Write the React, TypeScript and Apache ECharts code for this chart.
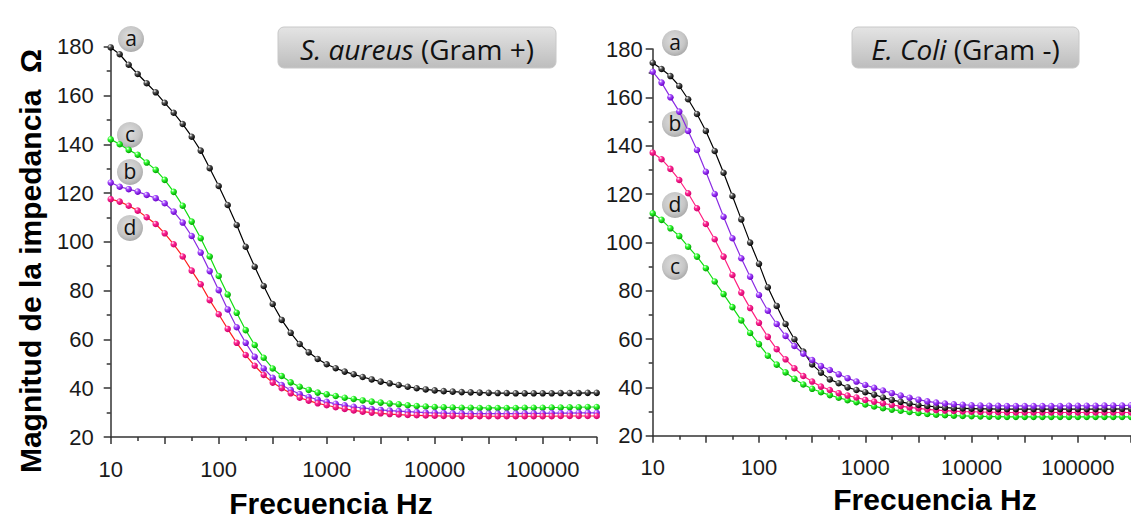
import React, { useEffect, useRef } from "react";
import * as echarts from "echarts";

// Frequencies (Hz), 12 points per decade from 10 Hz to ~316 kHz
const freq = [
  10, 12.115, 14.678, 17.783, 21.544, 26.102, 31.623, 38.312, 46.416, 56.234, 68.129, 82.54,
  100, 121.15, 146.78, 177.83, 215.44, 261.02, 316.23, 383.12, 464.16, 562.34, 681.29, 825.4,
  1000, 1211.5, 1467.8, 1778.3, 2154.4, 2610.2, 3162.3, 3831.2, 4641.6, 5623.4, 6812.9, 8254,
  10000, 12115, 14678, 17783, 21544, 26102, 31623, 38312, 46416, 56234, 68129, 82540,
  100000, 121153, 146780, 177828, 215443, 261016, 316228,
];

// S. aureus (Gram +)
const saA = [
  179.7, 176.9, 172.6, 168.8, 165.0, 161.3, 157.0, 152.9, 148.3, 143.1,
  137.4, 130.2, 122.9, 115.1, 106.9, 98.0, 89.8, 81.9, 74.5, 68.0,
  62.7, 58.1, 54.7, 52.0, 49.8, 48.2, 46.8, 45.7, 44.6, 43.6,
  42.7, 42.0, 41.3, 40.6, 40.0, 39.5, 39.1, 38.8, 38.6, 38.4,
  38.3, 38.2, 38.1, 38.0, 38.0, 37.9, 37.9, 37.9, 37.9, 37.9,
  38.0, 38.0, 38.0, 38.1, 38.1,
];
const saB = [
  124.3, 122.6, 121.6, 120.6, 119.2, 117.9, 115.8, 112.4, 107.9, 102.4,
  95.6, 88.0, 80.2, 72.3, 65.0, 58.6, 52.9, 48.1, 44.3, 41.3,
  39.3, 37.6, 36.4, 35.3, 34.4, 33.6, 33.0, 32.4, 31.9, 31.5,
  31.1, 30.8, 30.6, 30.4, 30.2, 30.0, 29.9, 29.8, 29.7, 29.7,
  29.6, 29.6, 29.6, 29.6, 29.6, 29.6, 29.7, 29.7, 29.7, 29.8,
  29.8, 29.8, 29.9, 29.9, 29.9,
];
const saC = [
  142.0, 140.0, 137.7, 135.7, 132.5, 129.5, 125.4, 120.5, 114.8, 108.3,
  101.5, 94.0, 86.0, 78.4, 70.9, 63.8, 57.7, 52.5, 48.1, 45.0,
  42.4, 40.6, 39.3, 38.2, 37.5, 36.8, 36.1, 35.6, 35.0, 34.5,
  34.1, 33.7, 33.4, 33.0, 32.7, 32.5, 32.3, 32.2, 32.1, 32.0,
  32.0, 31.9, 31.9, 31.9, 31.9, 31.9, 32.0, 32.0, 32.0, 32.1,
  32.1, 32.2, 32.2, 32.3, 32.3,
];
const saD = [
  117.5, 116.5, 114.8, 112.8, 110.1, 107.3, 103.5, 99.0, 94.0, 88.2,
  82.6, 76.1, 70.3, 64.3, 58.6, 53.6, 49.2, 45.4, 42.3, 40.0,
  37.9, 36.1, 34.9, 33.8, 33.0, 32.2, 31.5, 30.9, 30.4, 30.0,
  29.7, 29.4, 29.2, 29.0, 28.9, 28.8, 28.7, 28.6, 28.6, 28.5,
  28.5, 28.5, 28.5, 28.5, 28.5, 28.5, 28.5, 28.5, 28.5, 28.5,
  28.6, 28.6, 28.6, 28.6, 28.6,
];

// E. Coli (Gram -)
const ecA = [
  174.3, 171.7, 168.8, 164.7, 159.2, 153.1, 146.1, 137.8, 128.8, 119.2,
  109.5, 99.9, 91.1, 81.4, 73.7, 66.2, 59.9, 54.8, 49.5, 46.1,
  43.3, 41.7, 40.0, 38.9, 38.0, 37.0, 35.8, 34.8, 34.0, 33.3,
  32.7, 32.3, 31.9, 31.6, 31.4, 31.3, 31.2, 31.1, 31.1, 31.0,
  31.0, 31.0, 31.0, 31.0, 31.0, 31.0, 31.0, 31.0, 31.0, 31.0,
  31.0, 31.0, 31.0, 31.1, 31.1,
];
const ecB = [
  170.6, 166.1, 160.0, 154.1, 146.1, 138.2, 129.2, 120.0, 110.6, 101.7,
  93.4, 85.8, 78.2, 71.7, 66.2, 61.3, 57.1, 53.9, 51.3, 48.8,
  47.2, 45.4, 43.8, 42.4, 41.0, 39.8, 38.7, 37.6, 36.6, 35.7,
  34.9, 34.2, 33.7, 33.3, 33.0, 32.8, 32.6, 32.5, 32.4, 32.4,
  32.3, 32.3, 32.3, 32.3, 32.3, 32.3, 32.3, 32.4, 32.4, 32.4,
  32.4, 32.5, 32.5, 32.5, 32.6,
];
const ecC = [
  112.0, 109.3, 105.8, 102.6, 98.2, 94.1, 89.3, 83.8, 78.6, 73.2,
  67.7, 62.5, 57.9, 53.1, 49.4, 46.2, 43.5, 41.2, 39.4, 38.0,
  36.8, 35.7, 34.7, 33.9, 32.9, 32.1, 31.4, 30.8, 30.3, 29.8,
  29.4, 29.0, 28.7, 28.5, 28.3, 28.2, 28.1, 28.0, 27.9, 27.9,
  27.8, 27.8, 27.8, 27.8, 27.8, 27.8, 27.8, 27.8, 27.8, 27.8,
  27.8, 27.8, 27.8, 27.8, 27.8,
];
const ecD = [
  137.1, 134.4, 130.4, 125.8, 120.3, 114.1, 107.6, 101.3, 94.1, 86.5,
  79.2, 72.8, 66.7, 60.9, 55.8, 51.6, 47.9, 44.7, 42.4, 40.3,
  38.9, 37.6, 36.6, 35.8, 34.8, 34.1, 33.4, 32.7, 32.2, 31.7,
  31.3, 30.9, 30.6, 30.4, 30.2, 30.0, 29.9, 29.8, 29.7, 29.7,
  29.6, 29.6, 29.6, 29.6, 29.6, 29.6, 29.6, 29.6, 29.6, 29.6,
  29.6, 29.6, 29.6, 29.6, 29.6,
];

const xTickLabels = ["10", "100", "1000", "10000", "100000"];
const yTitle = "Magnitud de la impedancia  Ω";
const xTitle = "Frecuencia Hz";

const AXIS_COLOR = "#333";
const LABEL_FONT = "'Liberation Sans', Arial, sans-serif";
const CAL_FONT = "'Open Sans', 'Noto Sans', sans-serif";

function ball(c: string, dark: string) {
  return new echarts.graphic.RadialGradient(0.35, 0.3, 0.7, [
    { offset: 0, color: "#ffffff" },
    { offset: 0.35, color: c },
    { offset: 1, color: dark },
  ]);
}

function mkSeries(name: string, vals: number[], xi: number, yi: number, line: string, mk: string, dark: string) {
  return {
    name,
    type: "line",
    xAxisIndex: xi,
    yAxisIndex: yi,
    data: vals.map((v, i) => [freq[i], v]),
    symbol: "circle",
    symbolSize: 6.5,
    showSymbol: true,
    lineStyle: { color: line, width: 1.2 },
    itemStyle: { color: ball(mk, dark), borderWidth: 0 },
    emphasis: { disabled: true },
  };
}

function logAxis(grid: number) {
  return {
    type: "log",
    gridIndex: grid,
    logBase: 10,
    min: 10,
    max: 316228,
    position: "bottom",
    axisLine: { show: true, lineStyle: { color: AXIS_COLOR, width: 1.5 } },
    axisTick: { show: false },
    axisLabel: {
      fontSize: 22,
      color: "#1a1a1a",
      fontFamily: LABEL_FONT,
      margin: 21,
      showMaxLabel: false,
      formatter: (v: number) => {
        const s = String(Math.round(v));
        return xTickLabels.indexOf(s) >= 0 ? s : "";
      },
    },
    splitLine: { show: false },
  };
}

function tickAxis(grid: number) {
  return {
    type: "value",
    gridIndex: grid,
    min: 1,
    max: 5.5,
    interval: 0.5,
    position: "bottom",
    axisLine: { show: false },
    axisLabel: { show: false },
    splitLine: { show: false },
    axisTick: { show: true, length: 7, lineStyle: { color: AXIS_COLOR, width: 1.5 } },
    minorTick: { show: true, splitNumber: 2, length: 4, lineStyle: { color: AXIS_COLOR, width: 1.5 } },
  };
}

function yAxis(grid: number, margin: number) {
  return {
    type: "value",
    gridIndex: grid,
    min: 20,
    max: 180,
    interval: 20,
    axisLine: { show: true, lineStyle: { color: AXIS_COLOR, width: 1.5 } },
    axisTick: { show: true, length: 7, lineStyle: { color: AXIS_COLOR, width: 1.5 } },
    minorTick: { show: true, splitNumber: 2, length: 4, lineStyle: { color: AXIS_COLOR, width: 1.5 } },
    axisLabel: { fontSize: 22, color: "#1a1a1a", fontFamily: LABEL_FONT, margin },
    splitLine: { show: false },
  };
}

function bubble(letter: string, x: number, y: number) {
  return {
    type: "group",
    x,
    y,
    children: [
      {
        type: "circle",
        shape: { cx: 0, cy: 0, r: 13 },
        style: {
          fill: new echarts.graphic.RadialGradient(0.45, 0.4, 0.6, [
            { offset: 0, color: "#dedede" },
            { offset: 0.7, color: "#c6c6c6" },
            { offset: 1, color: "#aaaaaa" },
          ]),
        },
      },
      {
        type: "text",
        x: 0,
        y: -1,
        style: {
          text: letter,
          fontSize: 21,
          fontFamily: CAL_FONT,
          fill: "#111",
          align: "center",
          verticalAlign: "middle",
        },
      },
    ],
  };
}

function titleBox(x: number, y: number, w: number, h: number, italic: string, rest: string) {
  return {
    type: "group",
    x,
    y,
    children: [
      {
        type: "rect",
        shape: { x: 0, y: 0, width: w, height: h, r: 6 },
        style: {
          fill: new echarts.graphic.LinearGradient(0, 0, 0, 1, [
            { offset: 0, color: "#e4e4e4" },
            { offset: 1, color: "#bdbdbd" },
          ]),
          stroke: "#c8c8c8",
          lineWidth: 1,
        },
      },
      {
        type: "text",
        x: w / 2,
        y: h / 2 + 1,
        style: {
          text: "{i|" + italic + "}" + rest,
          fontSize: 28,
          fontFamily: CAL_FONT,
          fill: "#111",
          align: "center",
          verticalAlign: "middle",
          rich: { i: { fontStyle: "italic", fontSize: 28, fontFamily: CAL_FONT, fill: "#111" } },
        },
      },
    ],
  };
}

function boldTitle(text: string, x: number, y: number, rot: number) {
  return {
    type: "text",
    x,
    y,
    rotation: rot,
    style: {
      text,
      fontSize: 30,
      fontWeight: "bold",
      fontFamily: LABEL_FONT,
      fill: "#000",
      align: "center",
      verticalAlign: "middle",
    },
  };
}

export default function App() {
  const ref = useRef<HTMLDivElement>(null);
  useEffect(() => {
    if (!ref.current) return;
    const chart = echarts.init(ref.current, null, { renderer: "svg" });
    chart.setOption({
      animation: false,
      backgroundColor: "#ffffff",
      grid: [
        { left: 110.7, top: 46.7, width: 486, height: 390.3 },
        { left: 652.7, top: 49, width: 480, height: 386.7 },
      ],
      xAxis: [logAxis(0), tickAxis(0), logAxis(1), tickAxis(1)],
      yAxis: [yAxis(0, 17), yAxis(1, 10)],
      series: [
        mkSeries("a", saA, 0, 0, "#000000", "#555555", "#000000"),
        mkSeries("c", saC, 0, 0, "#11dd11", "#33ff33", "#00a000"),
        mkSeries("b", saB, 0, 0, "#8a2be2", "#a64dff", "#6a00c8"),
        mkSeries("d", saD, 0, 0, "#ff2020", "#ff2a95", "#d0006a"),
        mkSeries("c", ecC, 2, 1, "#11dd11", "#33ff33", "#00a000"),
        mkSeries("d", ecD, 2, 1, "#ff2080", "#ff2a95", "#d0006a"),
        mkSeries("a", ecA, 2, 1, "#000000", "#555555", "#000000"),
        mkSeries("b", ecB, 2, 1, "#8a2be2", "#a64dff", "#6a00c8"),
      ],
      graphic: [
        boldTitle(yTitle, 30, 261, Math.PI / 2),
        boldTitle(xTitle, 331, 503, 0),
        boldTitle(xTitle, 935, 499, 0),
        titleBox(278, 27, 278, 41, "S. aureus", " (Gram +)"),
        titleBox(852, 27, 227, 41, "E. Coli", " (Gram -)"),
        bubble("a", 131, 39),
        bubble("c", 130, 135),
        bubble("b", 130, 172),
        bubble("d", 130, 228),
        bubble("a", 675, 43),
        bubble("b", 675, 124),
        bubble("d", 675, 205),
        bubble("c", 675, 267),
      ],
    });
    return () => chart.dispose();
  }, []);
  return <div ref={ref} style={{ position: "absolute", left: 0, top: 0, width: 1131, height: 521 }} />;
}
